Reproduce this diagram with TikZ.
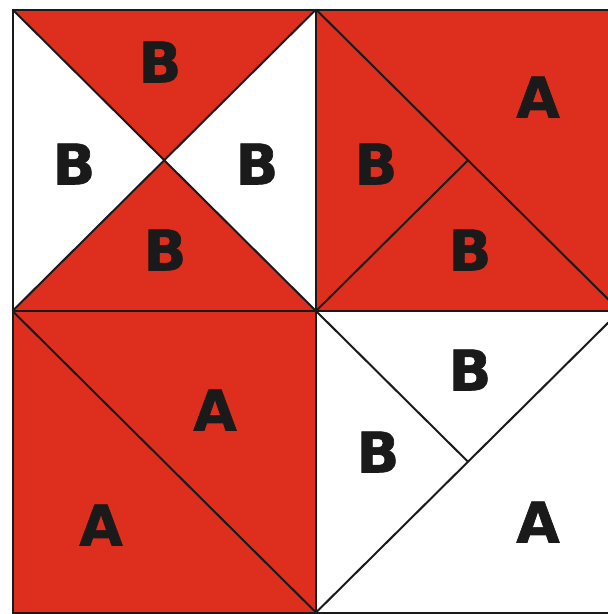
\documentclass[tikz,border=0pt]{standalone}
\usepackage{fontspec}
\setmainfont{DejaVu Sans}[BoldFeatures={FakeBold=1.2}]
\definecolor{qred}{HTML}{DE2E1E}
\definecolor{qink}{HTML}{1A1A1A}
\begin{document}
\begin{tikzpicture}[x=1pt,y=-1pt,
  edge/.style={draw=qink,line width=2pt,line join=miter},
  lbl/.style={inner sep=0pt,text=qink,font=\fontsize{56}{56}\selectfont\bfseries}]
\useasboundingbox (0,0) rectangle (608,614);
\clip (0,0) rectangle (608,614);
% corner coordinates
\coordinate (tl) at (12.5,9.5);
\coordinate (tm) at (316,9.5);
\coordinate (tr) at (620,9.5);
\coordinate (ml) at (12.5,311);
\coordinate (mm) at (316,311);
\coordinate (mr) at (620,311);
\coordinate (bl) at (12.5,612.5);
\coordinate (bm) at (316,612.5);
\coordinate (br) at (620,612.5);
\coordinate (c1) at (164.25,160.25);
\coordinate (c2) at (468,160.25);
\coordinate (c4) at (468,461.75);
% fills
\fill[qred] (tl) -- (tm) -- (c1) -- cycle;
\fill[qred] (ml) -- (mm) -- (c1) -- cycle;
\fill[qred] (tm) rectangle (mr);
\fill[qred] (ml) rectangle (bm);
% lines
\draw[edge] (tl) rectangle (br);
\draw[edge] (tm) -- (bm);
\draw[edge] (ml) -- (mr);
\draw[edge] (tl) -- (mm);
\draw[edge] (ml) -- (tm);
\draw[edge] (tm) -- (mr);
\draw[edge] (mm) -- (c2);
\draw[edge] (ml) -- (bm);
\draw[edge] (mr) -- (bm);
\draw[edge] (mm) -- (c4);
% labels
\node[lbl] (b1) at (160,62) {B};
\node[lbl] (b2) at (74,164) {B};
\node[lbl] (b3) at (257,164) {B};
\node[lbl] (b4) at (165,250) {B};
\node[lbl] (a1) at (538,97) {A};
\node[lbl] (b5) at (376,164) {B};
\node[lbl] (b6) at (470,250) {B};
\node[lbl] (a2) at (215,410) {A};
\node[lbl] (a3) at (101,525) {A};
\node[lbl] (b7) at (470,370) {B};
\node[lbl] (b8) at (378,452) {B};
\node[lbl] (a4) at (538,522) {A};
\end{tikzpicture}
\end{document}
